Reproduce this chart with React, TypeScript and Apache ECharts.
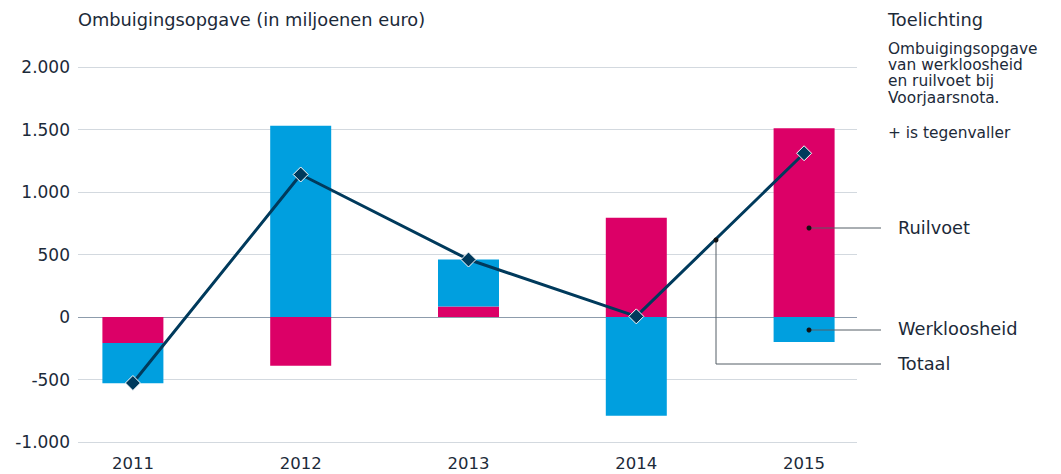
import React, { useEffect, useRef } from "react";
import * as echarts from "echarts";

const years = ["2011", "2012", "2013", "2014", "2015"];
const ruilvoet = [-208, -390, 85, 795, 1510];
const werkloosheid = [-322, 1530, 375, -790, -200];
const totaal = [-528, 1140, 460, 5, 1310];
const noteLines = ["Ombuigingsopgave", "van werkloosheid", "en ruilvoet bij", "Voorjaarsnota."];
const yMin = -1000;
const yMax = 2000;
const yStep = 500;

const TEXT = "#1c2a39";
const FONT = "DejaVu Sans, Verdana, sans-serif";

function fmt(v: number): string {
  const s = Math.abs(v).toString().replace(/\B(?=(\d{3})+(?!\d))/g, ".");
  return (v < 0 ? "-" : "") + s;
}

export default function App() {
  const ref = useRef<HTMLDivElement>(null);
  useEffect(() => {
    if (!ref.current) return;
    const chart = echarts.init(ref.current, null, { renderer: "svg" });
    const nLines = (yMax - yMin) / yStep + 1;
    const splitColors: string[] = [];
    for (let i = 0; i < nLines; i++) {
      splitColors.push(yMin + i * yStep === 0 ? "#8d9cac" : "#d3d9df");
    }
    const noteTexts = noteLines.map((t, i) => ({
      type: "text",
      left: 888,
      top: 41 + i * 16.4,
      style: { text: t, fill: TEXT, fontSize: 15.4, fontFamily: FONT },
    }));
    const option: any = {
      animation: false,
      textStyle: { fontFamily: FONT },
      grid: [
        { left: 49, top: 67, width: 839, height: 375 },
        { left: 78, top: 67, width: 779, height: 375 },
      ],
      xAxis: [
        {
          type: "category",
          data: years,
          gridIndex: 0,
          axisLine: { show: false },
          axisTick: { show: false },
          axisLabel: { color: TEXT, fontSize: 16.5, margin: 13, fontFamily: FONT },
        },
        {
          type: "category",
          data: years,
          gridIndex: 1,
          show: false,
        },
      ],
      yAxis: [
        {
          type: "value",
          gridIndex: 0,
          min: yMin,
          max: yMax,
          interval: yStep,
          show: false,
          splitLine: { show: false },
        },
        {
          type: "value",
          gridIndex: 1,
          min: yMin,
          max: yMax,
          interval: yStep,
          axisLine: { show: false },
          axisTick: { show: false },
          axisLabel: {
            color: TEXT,
            fontSize: 17,
            margin: 8,
            fontFamily: FONT,
            formatter: (v: number) => fmt(v),
          },
          splitLine: { show: true, lineStyle: { color: splitColors, width: 1 } },
        },
      ],
      series: [
        {
          name: "Ruilvoet",
          type: "bar",
          stack: "a",
          data: ruilvoet,
          barWidth: 61,
          itemStyle: { color: "#dc0067" },
          xAxisIndex: 0,
          yAxisIndex: 0,
          z: 3,
        },
        {
          name: "Werkloosheid",
          type: "bar",
          stack: "a",
          data: werkloosheid,
          barWidth: 61,
          itemStyle: { color: "#009fdf" },
          xAxisIndex: 0,
          yAxisIndex: 0,
          z: 3,
        },
        {
          name: "Totaal",
          type: "line",
          data: totaal,
          xAxisIndex: 0,
          yAxisIndex: 0,
          lineStyle: { color: "#003a5c", width: 3 },
          symbol: "diamond",
          symbolSize: 15,
          itemStyle: { color: "#003a5c", borderColor: "#ffffff", borderWidth: 1 },
          z: 5,
        },
      ],
      graphic: [
        {
          type: "text",
          left: 78,
          top: 10,
          style: { text: "Ombuigingsopgave (in miljoenen euro)", fill: TEXT, fontSize: 17.8, fontFamily: FONT },
        },
        {
          type: "text",
          left: 888,
          top: 10,
          style: { text: "Toelichting", fill: TEXT, fontSize: 17.8, fontFamily: FONT },
        },
        ...noteTexts,
        {
          type: "text",
          left: 888,
          top: 125,
          style: { text: "+ is tegenvaller", fill: TEXT, fontSize: 15.4, fontFamily: FONT },
        },
        // Ruilvoet annotation
        { type: "line", shape: { x1: 809, y1: 228, x2: 881, y2: 228 }, style: { stroke: "#555e66", lineWidth: 1 }, z: 10 },
        { type: "circle", shape: { cx: 809, cy: 228, r: 2.5 }, style: { fill: "#111" }, z: 11 },
        {
          type: "text",
          left: 898,
          top: 218,
          style: { text: "Ruilvoet", fill: TEXT, fontSize: 17.8, fontFamily: FONT },
        },
        // Werkloosheid annotation
        { type: "line", shape: { x1: 809, y1: 330, x2: 881, y2: 330 }, style: { stroke: "#555e66", lineWidth: 1 }, z: 10 },
        { type: "circle", shape: { cx: 809, cy: 330, r: 2.5 }, style: { fill: "#111" }, z: 11 },
        {
          type: "text",
          left: 898,
          top: 319,
          style: { text: "Werkloosheid", fill: TEXT, fontSize: 17.8, fontFamily: FONT },
        },
        // Totaal annotation
        {
          type: "polyline",
          shape: { points: [[716, 240], [716, 364], [881, 364]] },
          style: { stroke: "#555e66", lineWidth: 1, fill: "none" },
          z: 10,
        },
        { type: "circle", shape: { cx: 716, cy: 240, r: 2.5 }, style: { fill: "#111" }, z: 11 },
        {
          type: "text",
          left: 898,
          top: 354,
          style: { text: "Totaal", fill: TEXT, fontSize: 17.8, fontFamily: FONT },
        },
      ],
    };
    chart.setOption(option);
    return () => chart.dispose();
  }, []);
  return (
    <div
      ref={ref}
      style={{ position: "fixed", left: 0, top: 0, width: 1061, height: 474, background: "#fff" }}
    />
  );
}
